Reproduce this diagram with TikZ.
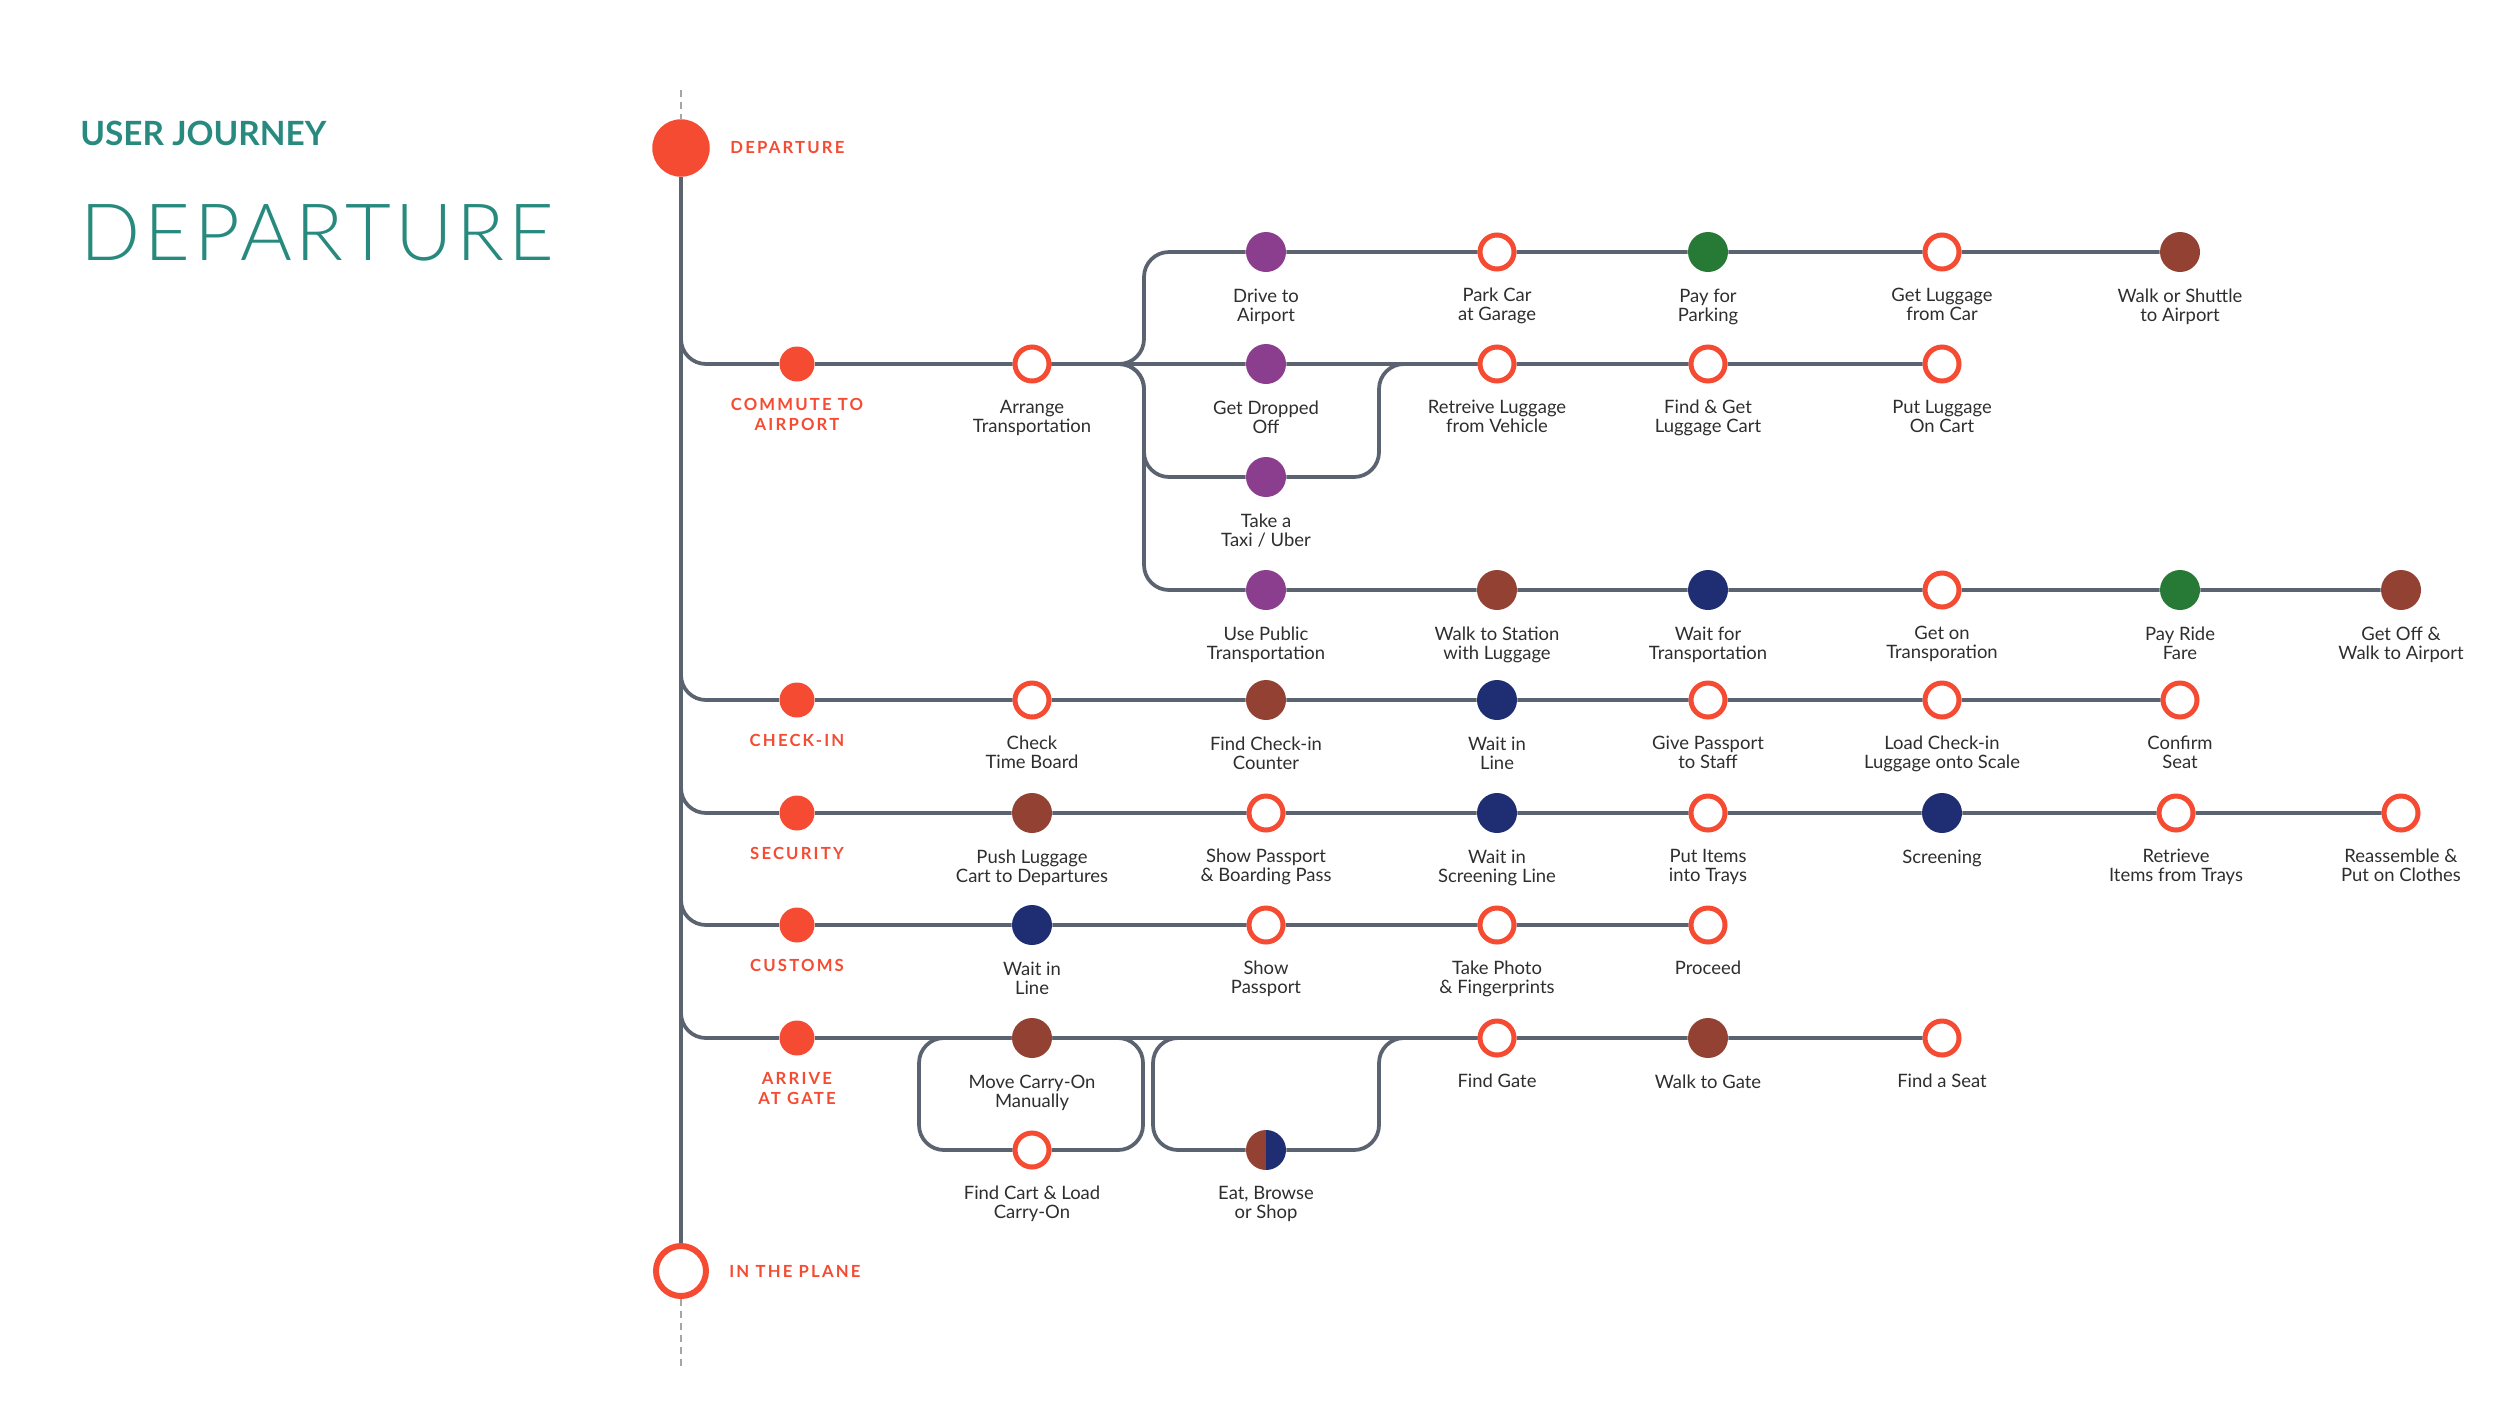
\documentclass[tikz,border=0pt]{standalone}
\usepackage{fontspec}
\setmainfont{Lato}
\IfFontExistsTF{Lato Light}{\newfontfamily\thinfont{Lato Light}[LetterSpace=5]}{\newfontfamily\thinfont{Lato}[LetterSpace=5]}
\usepackage{tikz}
\usetikzlibrary{positioning}
\usetikzlibrary{backgrounds}

\definecolor{jred}{HTML}{F54B32}
\definecolor{jpurple}{HTML}{8B3E8D}
\definecolor{jgreen}{HTML}{277A36}
\definecolor{jbrown}{HTML}{934133}
\definecolor{jnavy}{HTML}{1F2E72}
\definecolor{jline}{HTML}{5B6270}
\definecolor{jtext}{HTML}{2E2E2E}
\definecolor{jteal}{HTML}{288A7E}

\tikzset{
  track/.style={draw=jline, line width=0.75mm, rounded corners=5mm},
  lead/.style={draw=gray!70, line width=0.25mm, dash pattern=on 1.4mm off 1mm},
  stage/.style={circle, fill=jred, minimum size=7mm, inner sep=0},
  spot/.style={circle, fill=#1, minimum size=8mm, inner sep=0},
  ring/.style={circle, draw=jred, fill=white, line width=1mm, minimum size=6.8mm, inner sep=0},
  halfspot/.style={circle, minimum size=8mm, inner sep=0,
    path picture={\fill[jbrown] (path picture bounding box.south west) rectangle (path picture bounding box.north);
                  \fill[jnavy] (path picture bounding box.south) rectangle (path picture bounding box.north east);}},
  steptext/.style={font=\fontsize{10.5}{10.8}\selectfont, text=jtext, align=center, inner sep=0},
  stagetext/.style={font=\fontsize{9.5}{11.5}\selectfont\bfseries\addfontfeatures{LetterSpace=13}, text=jred, align=center, inner sep=0},
  node distance=3.2mm
}

\begin{document}
\begin{tikzpicture}[x=0.2mm, y=-0.2mm]
\useasboundingbox (0,0) rectangle (2500,1407);

\node[anchor=base west, inner sep=0, text=jteal, font=\fontsize{19}{19}\selectfont\bfseries] (kicker) at (80,145) {USER JOURNEY};
\node[anchor=base west, inner sep=0, text=jteal, font=\fontsize{45}{45}\selectfont\thinfont] (title) at (80,260) {DEPARTURE};

\node[circle, fill=jred, minimum size=11.5mm, inner sep=0] (dep) at (681,148) {};
\node[stagetext, right=4mm of dep] (dep-t) {DEPARTURE};
\node[ring, minimum size=10mm, line width=1.2mm] (plane) at (681,1271) {};
\node[stagetext, right=4mm of plane] (plane-t) {IN THE PLANE};
\coordinate (lead-top) at (681,90);
\coordinate (lead-bot) at (681,1366);

\node[spot=jpurple] (drive) at (1266,252) {};
\node[steptext, below=of drive] (drive-t) {Drive to\\Airport};
\node[ring] (park) at (1497,252) {};
\node[steptext, below=of park] (park-t) {Park Car\\at Garage};
\node[spot=jgreen] (paypark) at (1708,252) {};
\node[steptext, below=of paypark] (paypark-t) {Pay for\\Parking};
\node[ring] (carlug) at (1942,252) {};
\node[steptext, below=of carlug] (carlug-t) {Get Luggage\\from Car};
\node[spot=jbrown] (shuttle) at (2180,252) {};
\node[steptext, below=of shuttle] (shuttle-t) {Walk or Shuttle\\to Airport};

\node[stage] (commute) at (797,364) {};
\node[stagetext, below=of commute] (commute-t) {COMMUTE TO\\AIRPORT};
\node[ring] (arrange) at (1032,364) {};
\node[steptext, below=of arrange] (arrange-t) {Arrange\\Transportation};
\node[spot=jpurple] (dropoff) at (1266,364) {};
\node[steptext, below=of dropoff] (dropoff-t) {Get Dropped\\Off};
\node[ring] (retrieve) at (1497,364) {};
\node[steptext, below=of retrieve] (retrieve-t) {Retreive Luggage\\from Vehicle};
\node[ring] (cart) at (1708,364) {};
\node[steptext, below=of cart] (cart-t) {Find \& Get\\Luggage Cart};
\node[ring] (oncart) at (1942,364) {};
\node[steptext, below=of oncart] (oncart-t) {Put Luggage\\On Cart};

\node[spot=jpurple] (taxi) at (1266,477) {};
\node[steptext, below=of taxi] (taxi-t) {Take a\\Taxi / Uber};

\node[spot=jpurple] (public) at (1266,590) {};
\node[steptext, below=of public] (public-t) {Use Public\\Transportation};
\node[spot=jbrown] (station) at (1497,590) {};
\node[steptext, below=of station] (station-t) {Walk to Station\\with Luggage};
\node[spot=jnavy] (waitride) at (1708,590) {};
\node[steptext, below=of waitride] (waitride-t) {Wait for\\Transportation};
\node[ring] (board) at (1942,590) {};
\node[steptext, below=of board] (board-t) {Get on\\Transporation};
\node[spot=jgreen] (fare) at (2180,590) {};
\node[steptext, below=of fare] (fare-t) {Pay Ride\\Fare};
\node[spot=jbrown] (getoff) at (2401,590) {};
\node[steptext, below=of getoff] (getoff-t) {Get Off \&\\Walk to Airport};

\node[stage] (checkin) at (797,700) {};
\node[stagetext, below=of checkin] (checkin-t) {CHECK-IN};
\node[ring] (timeboard) at (1032,700) {};
\node[steptext, below=of timeboard] (timeboard-t) {Check\\Time Board};
\node[spot=jbrown] (counter) at (1266,700) {};
\node[steptext, below=of counter] (counter-t) {Find Check-in\\Counter};
\node[spot=jnavy] (queue) at (1497,700) {};
\node[steptext, below=of queue] (queue-t) {Wait in\\Line};
\node[ring] (staff) at (1708,700) {};
\node[steptext, below=of staff] (staff-t) {Give Passport\\to Staff};
\node[ring] (scale) at (1942,700) {};
\node[steptext, below=of scale] (scale-t) {Load Check-in\\Luggage onto Scale};
\node[ring] (confirm) at (2180,700) {};
\node[steptext, below=of confirm] (confirm-t) {Confirm\\Seat};

\node[stage] (security) at (797,813) {};
\node[stagetext, below=of security] (security-t) {SECURITY};
\node[spot=jbrown] (push) at (1032,813) {};
\node[steptext, below=of push] (push-t) {Push Luggage\\Cart to Departures};
\node[ring] (boarding) at (1266,813) {};
\node[steptext, below=of boarding] (boarding-t) {Show Passport\\\& Boarding Pass};
\node[spot=jnavy] (screenq) at (1497,813) {};
\node[steptext, below=of screenq] (screenq-t) {Wait in\\Screening Line};
\node[ring] (trays) at (1708,813) {};
\node[steptext, below=of trays] (trays-t) {Put Items\\into Trays};
\node[spot=jnavy] (screening) at (1942,813) {};
\node[steptext, below=of screening] (screening-t) {Screening};
\node[ring] (getitems) at (2176,813) {};
\node[steptext, below=of getitems] (getitems-t) {Retrieve\\Items from Trays};
\node[ring] (clothes) at (2401,813) {};
\node[steptext, below=of clothes] (clothes-t) {Reassemble \&\\Put on Clothes};

\node[stage] (customs) at (797,925) {};
\node[stagetext, below=of customs] (customs-t) {CUSTOMS};
\node[spot=jnavy] (custq) at (1032,925) {};
\node[steptext, below=of custq] (custq-t) {Wait in\\Line};
\node[ring] (showpass) at (1266,925) {};
\node[steptext, below=of showpass] (showpass-t) {Show\\Passport};
\node[ring] (photo) at (1497,925) {};
\node[steptext, below=of photo] (photo-t) {Take Photo\\\& Fingerprints};
\node[ring] (proceed) at (1708,925) {};
\node[steptext, below=of proceed] (proceed-t) {Proceed};

\node[stage] (gate) at (797,1038) {};
\node[stagetext, below=of gate] (gate-t) {ARRIVE\\AT GATE};
\node[spot=jbrown] (carryon) at (1032,1038) {};
\node[steptext, below=of carryon] (carryon-t) {Move Carry-On\\Manually};
\node[ring] (findgate) at (1497,1038) {};
\node[steptext, below=of findgate] (findgate-t) {Find Gate};
\node[spot=jbrown] (walkgate) at (1708,1038) {};
\node[steptext, below=of walkgate] (walkgate-t) {Walk to Gate};
\node[ring] (findseat) at (1942,1038) {};
\node[steptext, below=of findseat] (findseat-t) {Find a Seat};
\node[ring] (loadcart) at (1032,1150) {};
\node[steptext, below=of loadcart] (loadcart-t) {Find Cart \& Load\\Carry-On};
\node[halfspot] (eat) at (1266,1150) {};
\node[steptext, below=of eat] (eat-t) {Eat, Browse\\or Shop};

\coordinate (fork) at (1144,364);
\coordinate (merge) at (1379,364);
\coordinate (gfork1) at (919,1038);
\coordinate (gjoin1) at (1143,1038);
\coordinate (gfork2) at (1153,1038);
\coordinate (gjoin2) at (1379,1038);

\begin{scope}[on background layer]
\draw[lead] (lead-top) -- (dep);
\draw[lead] (plane) -- (lead-bot);
\draw[track] (dep) -- (plane);
\draw[track] (dep) |- (commute) -- (arrange) -- (dropoff) -- (retrieve) -- (cart) -- (oncart);
\draw[track] (arrange) -- (fork) |- (drive) -- (park) -- (paypark) -- (carlug) -- (shuttle);
\draw[track] (arrange) -- (fork) |- (taxi) -| (merge) -- (retrieve);
\draw[track] (arrange) -- (fork) |- (public) -- (station) -- (waitride) -- (board) -- (fare) -- (getoff);
\draw[track] (dep) |- (checkin) -- (timeboard) -- (counter) -- (queue) -- (staff) -- (scale) -- (confirm);
\draw[track] (dep) |- (security) -- (push) -- (boarding) -- (screenq) -- (trays) -- (screening) -- (getitems) -- (clothes);
\draw[track] (dep) |- (customs) -- (custq) -- (showpass) -- (photo) -- (proceed);
\draw[track] (dep) |- (gate) -- (carryon) -- (findgate) -- (walkgate) -- (findseat);
\draw[track] (carryon) -- (gfork1) |- (loadcart) -| (gjoin1) -- (carryon);
\draw[track] (findgate) -- (gfork2) |- (eat) -| (gjoin2) -- (findgate);
\end{scope}
\end{tikzpicture}
\end{document}
